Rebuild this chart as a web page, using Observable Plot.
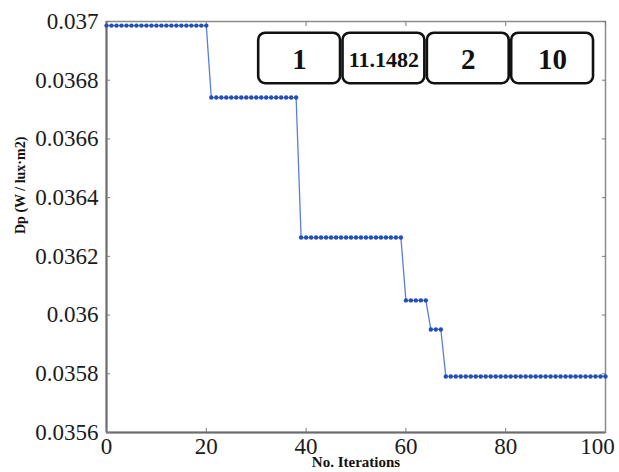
<!DOCTYPE html>
<html><head><meta charset="utf-8">
<script src="https://cdn.jsdelivr.net/npm/d3@7"></script>
<script src="https://cdn.jsdelivr.net/npm/@observablehq/plot@0.6"></script>
<style>
html,body{margin:0;padding:0;background:#fff;}
svg text{font-family:'Liberation Serif','Times New Roman',serif;}
</style></head><body><div id="chart"></div>
<script>
// Step series: first iteration of each level and its Dp value
const stepStartIter = [0, 21, 39, 60, 65, 68];
const stepValue = [0.036986, 0.036741, 0.036264, 0.03605, 0.035951, 0.035791];
const lastIter = 100;
const xTicks = [0, 20, 40, 60, 80, 100];
const yTicks = [0.0356, 0.0358, 0.036, 0.0362, 0.0364, 0.0366, 0.0368, 0.037];
const yTickLabels = ["0.0356", "0.0358", "0.036", "0.0362", "0.0364", "0.0366", "0.0368", "0.037"];
const xDomain = [0, 100];
const yDomain = [0.0356, 0.037];
const boxLabels = ["1", "11.1482", "2", "10"];
const xLabel = "No. Iterations";
const yLabel = "Dp (W / lux·m2)";

const points = [];
for (let i = 0; i < stepStartIter.length; i++) {
  const end = i + 1 < stepStartIter.length ? stepStartIter[i + 1] - 1 : lastIter;
  for (let it = stepStartIter[i]; it <= end; it++) points.push({iter: it, dp: stepValue[i]});
}

// annotation boxes laid out in data units
const boxLeft = 30.5, boxW = 16.4, boxGap = 0.5, boxTop = 0.03696, boxBottom = 0.036788;
const boxes = boxLabels.map((t, i) => ({
  label: t,
  x1: boxLeft + i * (boxW + boxGap),
  x2: boxLeft + i * (boxW + boxGap) + boxW,
  y1: boxBottom, y2: boxTop
}));

const serif = "'Liberation Serif', 'Times New Roman', serif";
const tickColor = "#7a7a7a";
const innerXTicks = xTicks.filter(d => d < xDomain[1]);
const edgeXTicks = xTicks.filter(d => d >= xDomain[1]);

const chart = Plot.plot({
  width: 619,
  height: 472,
  marginLeft: 106,
  marginRight: 14,
  marginTop: 21,
  marginBottom: 40,
  style: {fontFamily: serif, background: "#fff", color: "#1a1a1a"},
  x: {domain: xDomain, axis: null},
  y: {domain: yDomain, axis: null},
  marks: [
    Plot.frame({stroke: "#8c8c8c", strokeWidth: 1.5}),
    Plot.ruleX([xDomain[0]], {stroke: "#6b6b6b", strokeWidth: 2}),
    Plot.ruleY([yDomain[0]], {stroke: "#6b6b6b", strokeWidth: 2}),
    Plot.axisX(innerXTicks, {anchor: "bottom", tickSize: -4, tickPadding: 9, stroke: tickColor, fontSize: 23, fontFamily: serif, label: null, tickFormat: d => String(d)}),
    Plot.axisX(edgeXTicks, {anchor: "bottom", tickSize: 0, tickPadding: 5, dx: -8, fontSize: 23, fontFamily: serif, label: null, tickFormat: d => String(d)}),
    Plot.axisX(xTicks, {anchor: "top", tickSize: -4, stroke: tickColor, tickFormat: () => "", label: null}),
    Plot.axisY(yTicks, {anchor: "left", tickSize: -4, tickPadding: 12, stroke: tickColor, fontSize: 23, fontFamily: serif, label: null, tickFormat: (d, i) => yTickLabels[yTicks.indexOf(d)]}),
    Plot.axisY(yTicks, {anchor: "right", tickSize: -4, stroke: tickColor, tickFormat: () => "", label: null}),
    Plot.line(points, {x: "iter", y: "dp", stroke: "#5a7ed8", strokeWidth: 1.3}),
    Plot.dot(points, {x: "iter", y: "dp", r: 2.2, fill: "#2350b5", stroke: null}),
    Plot.rect(boxes, {x1: "x1", x2: "x2", y1: "y1", y2: "y2", rx: 7, fill: "#fff", stroke: "#111", strokeWidth: 2.6}),
    Plot.text(boxes, {x: d => (d.x1 + d.x2) / 2, y: d => (d.y1 + d.y2) / 2, text: "label", fontFamily: serif, fontWeight: "bold", fontSize: d => d.label.length > 3 ? 22 : 29, fill: "#111", dy: 1}),
    Plot.text([yLabel], {frameAnchor: "left", rotate: -90, dx: -86, dy: 7, fontFamily: serif, fontWeight: "bold", fontSize: 14, fill: "#111"}),
    Plot.text([xLabel], {frameAnchor: "bottom", dy: 34, fontFamily: serif, fontWeight: "bold", fontSize: 15, fill: "#111"})
  ]
});
document.getElementById("chart").appendChild(chart);
</script></body></html>
